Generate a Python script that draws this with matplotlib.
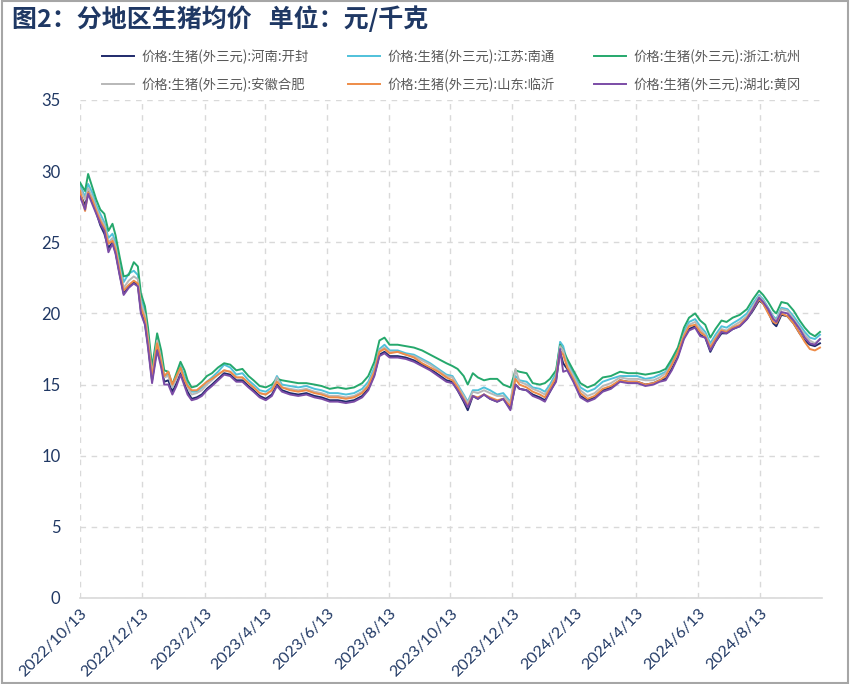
import matplotlib
matplotlib.use("Agg")
import matplotlib.pyplot as plt
import pandas as pd
from matplotlib.patches import Rectangle

plt.rcParams['font.family'] = ['Noto Sans CJK SC', 'DejaVu Sans']

start_date = "2022-10-13"
day_offsets = [0, 5, 8, 12, 16, 20, 24, 28, 32, 35, 39, 43, 48, 53, 57, 60, 64, 67, 71, 76,
               80, 83, 87, 91, 95, 99, 103, 106, 110, 115, 120, 125, 130, 136, 142, 148, 154, 160, 166, 171,
               177, 183, 189, 194, 199, 207, 215, 223, 231, 238, 246, 254, 262, 270, 278, 284, 290, 295, 300, 305,
               313, 321, 329, 337, 345, 353, 361, 367, 372, 378, 382, 387, 392, 398, 404, 411, 417, 424, 429, 433,
               440, 446, 453, 458, 463, 469, 473, 476, 480, 486, 493, 500, 507, 515, 523, 532, 540, 549, 557, 565,
               571, 577, 583, 589, 595, 600, 606, 611, 616, 621, 626, 632, 637, 643, 650, 657, 663, 669, 673, 678,
               683, 686, 691, 697, 703, 709, 714, 719, 724, 729]

henan_kaifeng = [28.4, 27.6, 28.6, 27.9, 27.1, 26.2, 25.6, 24.6, 25.0, 24.3, 22.8, 21.4, 21.9, 22.2, 22.0, 20.2, 19.3, 17.8, 15.3, 17.6,
                 16.4, 15.2, 15.3, 14.5, 15.1, 15.8, 15.1, 14.5, 14.0, 14.1, 14.3, 14.7, 15.0, 15.4, 15.8, 15.7, 15.3, 15.3, 14.9, 14.6,
                 14.2, 14.0, 14.3, 15.0, 14.6, 14.4, 14.3, 14.4, 14.2, 14.1, 13.9, 13.9, 13.8, 13.9, 14.2, 14.7, 15.7, 17.1, 17.3, 17.0,
                 17.0, 16.9, 16.7, 16.4, 16.1, 15.7, 15.3, 15.2, 14.6, 13.8, 13.2, 14.2, 14.0, 14.3, 14.0, 13.8, 14.0, 13.3, 15.0, 14.7,
                 14.6, 14.3, 14.1, 13.9, 14.5, 15.3, 17.3, 16.5, 16.1, 15.3, 14.2, 13.9, 14.1, 14.6, 14.8, 15.3, 15.2, 15.2, 15.0, 15.1,
                 15.3, 15.4, 16.1, 17.0, 18.3, 18.9, 19.1, 18.5, 18.3, 17.3, 18.0, 18.6, 18.6, 18.9, 19.1, 19.6, 20.2, 20.9, 20.7, 20.1,
                 19.3, 19.1, 19.9, 19.8, 19.3, 18.6, 18.1, 17.8, 17.7, 17.9]
jiangsu_nantong = [29.0, 28.2, 29.1, 28.5, 27.6, 27.0, 26.4, 25.3, 25.6, 25.0, 23.4, 22.2, 22.8, 23.0, 22.7, 21.0, 20.2, 18.6, 15.9, 18.3,
                   17.0, 15.6, 15.7, 14.8, 15.5, 16.3, 15.6, 15.0, 14.5, 14.5, 14.8, 15.2, 15.5, 15.9, 16.4, 16.2, 15.7, 15.8, 15.3, 15.0,
                   14.6, 14.5, 14.8, 15.6, 15.0, 14.9, 14.8, 14.9, 14.7, 14.6, 14.4, 14.4, 14.3, 14.4, 14.7, 15.2, 16.2, 17.5, 17.8, 17.4,
                   17.4, 17.2, 17.1, 16.8, 16.5, 16.1, 15.7, 15.6, 15.0, 14.3, 13.8, 14.6, 14.6, 14.8, 14.6, 14.3, 14.4, 13.8, 15.6, 15.3,
                   15.2, 14.8, 14.7, 14.5, 15.0, 15.8, 18.0, 17.7, 16.6, 15.8, 14.8, 14.5, 14.7, 15.2, 15.4, 15.6, 15.6, 15.6, 15.4, 15.5,
                   15.7, 15.9, 16.6, 17.4, 18.7, 19.4, 19.6, 19.1, 18.7, 17.9, 18.5, 19.1, 19.0, 19.3, 19.6, 20.0, 20.7, 21.3, 21.0, 20.4,
                   19.8, 19.6, 20.4, 20.3, 19.8, 19.2, 18.7, 18.3, 18.2, 18.5]
zhejiang_hangzhou = [29.2, 28.6, 29.8, 28.9, 28.0, 27.3, 27.0, 25.8, 26.3, 25.5, 24.0, 22.6, 22.7, 23.6, 23.3, 21.4, 20.5, 19.0, 16.2, 18.6,
                     17.4, 16.0, 15.9, 15.0, 15.8, 16.6, 16.0, 15.3, 14.8, 14.9, 15.2, 15.6, 15.8, 16.2, 16.5, 16.4, 16.0, 16.1, 15.6, 15.3,
                     14.9, 14.8, 15.0, 15.4, 15.3, 15.2, 15.1, 15.1, 15.0, 14.9, 14.7, 14.8, 14.7, 14.8, 15.1, 15.6, 16.6, 18.1, 18.3, 17.8,
                     17.8, 17.7, 17.6, 17.4, 17.1, 16.8, 16.5, 16.3, 16.1, 15.6, 15.0, 15.8, 15.5, 15.3, 15.4, 15.4, 15.0, 14.8, 16.0, 15.9,
                     15.8, 15.1, 15.0, 15.1, 15.4, 16.0, 17.8, 17.4, 16.8, 16.0, 15.1, 14.8, 15.0, 15.5, 15.6, 15.9, 15.8, 15.8, 15.7, 15.8,
                     15.9, 16.1, 16.8, 17.6, 19.0, 19.7, 20.0, 19.5, 19.2, 18.3, 18.9, 19.5, 19.4, 19.7, 19.9, 20.3, 21.0, 21.6, 21.3, 20.8,
                     20.2, 20.0, 20.8, 20.7, 20.2, 19.5, 19.0, 18.6, 18.4, 18.7]
anhui_hefei = [28.8, 28.0, 28.8, 28.2, 27.4, 26.7, 26.2, 25.0, 25.3, 24.7, 23.2, 21.8, 22.3, 22.6, 22.4, 20.7, 19.9, 18.3, 15.7, 18.1,
               16.8, 15.5, 15.6, 14.8, 15.4, 16.1, 15.4, 14.8, 14.3, 14.4, 14.6, 15.0, 15.3, 15.7, 16.0, 15.9, 15.5, 15.5, 15.1, 14.8,
               14.4, 14.3, 14.6, 15.5, 14.8, 14.7, 14.6, 14.7, 14.5, 14.4, 14.2, 14.2, 14.1, 14.2, 14.5, 15.0, 16.0, 17.4, 17.6, 17.3,
               17.3, 17.1, 17.0, 16.7, 16.4, 16.0, 15.6, 15.5, 14.9, 14.2, 13.7, 14.5, 14.4, 14.6, 14.4, 14.2, 14.2, 13.7, 16.1, 15.2,
               15.0, 14.7, 14.5, 14.3, 14.8, 15.6, 17.7, 17.4, 16.4, 15.6, 14.6, 14.2, 14.4, 14.9, 15.1, 15.5, 15.4, 15.4, 15.3, 15.3,
               15.5, 15.8, 16.4, 17.2, 18.5, 19.2, 19.4, 18.9, 18.5, 17.7, 18.3, 18.9, 18.8, 19.1, 19.4, 19.8, 20.5, 21.2, 20.9, 20.3,
               19.7, 19.5, 20.3, 20.2, 19.6, 19.0, 18.5, 18.1, 17.9, 18.2]
shandong_linyi = [28.6, 27.2, 28.5, 28.0, 27.2, 26.5, 26.0, 24.9, 25.1, 24.5, 23.0, 21.6, 22.0, 22.3, 22.1, 20.4, 19.6, 18.0, 15.5, 17.9,
                  16.6, 15.6, 15.9, 15.0, 15.6, 16.2, 15.3, 14.9, 14.6, 14.6, 14.9, 15.2, 15.4, 15.7, 16.0, 15.9, 15.5, 15.5, 15.1, 14.8,
                  14.4, 14.3, 14.6, 15.2, 14.8, 14.6, 14.5, 14.6, 14.4, 14.3, 14.1, 14.1, 14.0, 14.1, 14.4, 14.9, 15.9, 17.3, 17.5, 17.2,
                  17.3, 17.1, 16.9, 16.5, 16.2, 15.9, 15.5, 15.3, 14.8, 14.0, 13.5, 14.2, 14.1, 14.3, 14.1, 13.9, 14.0, 13.5, 15.4, 15.0,
                  14.8, 14.5, 14.3, 14.1, 14.7, 15.5, 17.4, 17.1, 16.2, 15.4, 14.4, 14.0, 14.2, 14.7, 14.9, 15.3, 15.2, 15.2, 15.0, 15.1,
                  15.3, 15.6, 16.4, 17.3, 18.4, 19.1, 19.2, 18.7, 18.4, 17.6, 18.2, 18.8, 18.7, 19.0, 19.2, 19.7, 20.3, 21.0, 20.7, 20.0,
                  19.4, 19.3, 20.0, 19.8, 19.3, 18.6, 18.0, 17.5, 17.4, 17.6]
hubei_huanggang = [28.2, 27.3, 28.4, 27.7, 27.0, 26.3, 25.8, 24.3, 24.9, 24.2, 22.7, 21.3, 21.8, 22.1, 21.9, 20.0, 19.2, 17.6, 15.1, 17.4,
                   16.2, 15.0, 15.0, 14.3, 14.9, 15.7, 14.9, 14.3, 13.9, 14.0, 14.2, 14.6, 14.9, 15.3, 15.7, 15.6, 15.2, 15.2, 14.8, 14.5,
                   14.1, 13.9, 14.2, 14.9, 14.5, 14.3, 14.2, 14.3, 14.1, 14.0, 13.8, 13.8, 13.7, 13.8, 14.1, 14.6, 15.6, 17.0, 17.2, 16.9,
                   16.9, 16.8, 16.6, 16.3, 16.0, 15.6, 15.2, 15.1, 14.6, 13.9, 13.4, 14.2, 14.0, 14.3, 14.0, 13.8, 14.0, 13.2, 15.0, 14.7,
                   14.6, 14.2, 14.0, 13.8, 14.5, 15.2, 17.5, 15.9, 16.0, 15.2, 14.1, 13.8, 14.0, 14.5, 14.7, 15.2, 15.1, 15.1, 14.9, 15.0,
                   15.2, 15.3, 16.0, 16.9, 18.2, 18.8, 19.0, 18.4, 18.3, 17.4, 18.0, 18.7, 18.6, 18.9, 19.1, 19.6, 20.3, 21.1, 20.8, 20.3,
                   19.6, 19.4, 20.1, 20.0, 19.5, 18.9, 18.3, 17.9, 17.8, 18.2]

series_labels = ["价格:生猪(外三元):河南:开封", "价格:生猪(外三元):江苏:南通", "价格:生猪(外三元):浙江:杭州",
                 "价格:生猪(外三元):安徽合肥", "价格:生猪(外三元):山东:临沂", "价格:生猪(外三元):湖北:黄冈"]
series_values = [henan_kaifeng, jiangsu_nantong, zhejiang_hangzhou, anhui_hefei, shandong_linyi, hubei_huanggang]
series_colors = ["#1F2A6B", "#4FC1DA", "#25A86C", "#B8B8B8", "#EE8C48", "#7B4CA6"]

tick_labels = ["2022/10/13", "2022/12/13", "2023/2/13", "2023/4/13", "2023/6/13", "2023/8/13",
               "2023/10/13", "2023/12/13", "2024/2/13", "2024/4/13", "2024/6/13", "2024/8/13"]
y_ticks = [0, 5, 10, 15, 20, 25, 30, 35]

title_text = "图2：分地区生猪均价   单位：元/千克"

dates = pd.to_datetime(start_date) + pd.to_timedelta(day_offsets, unit="D")
tick_dates = pd.to_datetime(tick_labels, format="%Y/%m/%d")

fig = plt.figure(figsize=(8.5, 6.84), dpi=100)
ax = fig.add_axes([80 / 850, (684 - 598) / 684, (822 - 80) / 850, (598 - 100) / 684])

lines = []
for vals, lab, col in zip(series_values, series_labels, series_colors):
    ln, = ax.plot(dates, vals, color=col, lw=1.4, label=lab)
    lines.append(ln)

ax.set_ylim(0, 35)
ax.set_xlim(pd.to_datetime(start_date), dates[-1] + pd.Timedelta(days=2))
ax.set_yticks(y_ticks)
ax.set_xticks(tick_dates)
ax.set_xticklabels(tick_labels, rotation=45, ha="right", va="top", rotation_mode="anchor")

tick_color = "#203864"
for lab in ax.get_yticklabels():
    lab.set_fontfamily("Lato")
    lab.set_fontsize(12)
    lab.set_color(tick_color)
for lab in ax.get_xticklabels():
    lab.set_fontfamily("Lato")
    lab.set_fontsize(11.5)
    lab.set_color(tick_color)

ax.tick_params(axis="both", length=0)
ax.tick_params(axis="y", pad=14)
ax.tick_params(axis="x", pad=6)
for s in ["left", "right", "top"]:
    ax.spines[s].set_visible(False)
ax.spines["bottom"].set_color("#D9D9D9")
ax.spines["bottom"].set_linewidth(1.2)
ax.grid(True, which="major", color="#D9D9D9", linestyle=(0, (4, 4)), linewidth=1.0)
ax.set_axisbelow(True)

# legend filled row by row (3 per row)
order = [0, 3, 1, 4, 2, 5]
fig.legend(handles=[lines[i] for i in order], labels=[series_labels[i] for i in order],
           loc="upper left", ncol=3,
           bbox_to_anchor=(97 / 850, 1 - 44 / 684), frameon=False,
           prop={"family": ["Noto Sans CJK SC", "DejaVu Sans"], "size": 9.6},
           labelcolor="#595959", handlelength=2.4, handletextpad=0.5,
           columnspacing=3.0, labelspacing=1.0, borderaxespad=0)

fig.text(12 / 850, 1 - 19 / 684, title_text, fontsize=18, fontweight="bold",
         color="#1F3864", va="center", ha="left")

fig.patches.append(Rectangle((0.002, 0.002), 0.996, 0.996, transform=fig.transFigure,
                             fill=False, edgecolor="#A6A6A6", linewidth=1.5))

fig.savefig("out.png", dpi=100)
